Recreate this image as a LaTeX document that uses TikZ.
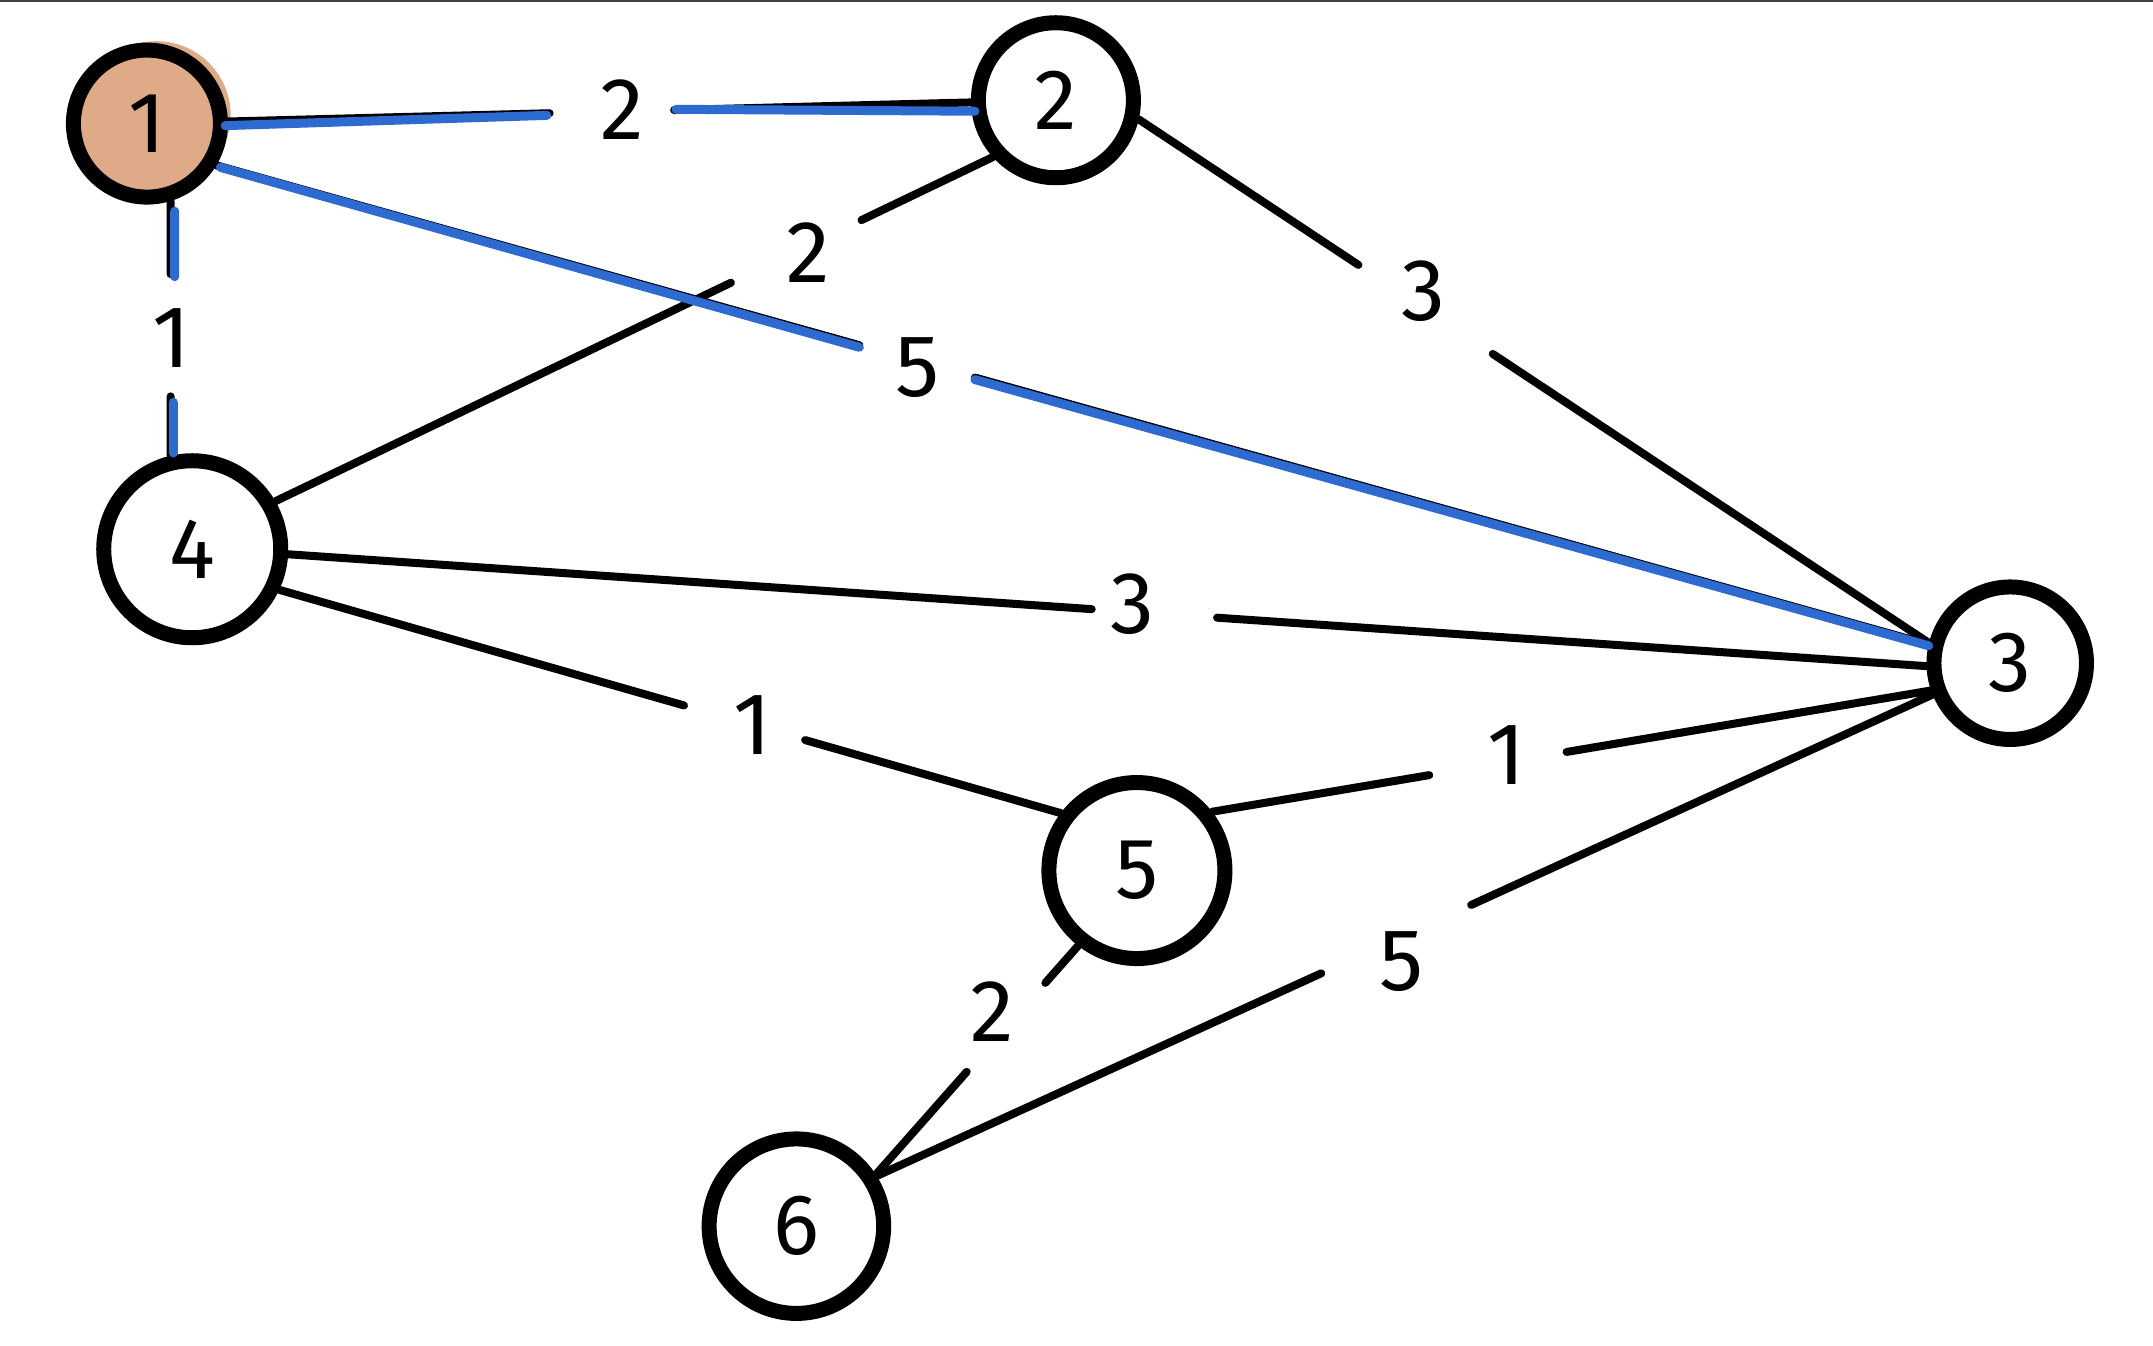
\documentclass[tikz,border=0pt]{standalone}
\usepackage{fontspec}
\setmainfont{Fira Sans}
\usetikzlibrary{calc}
\definecolor{hlblue}{HTML}{2D6BD0}
\definecolor{srcfill}{HTML}{DFAA87}
\definecolor{topline}{HTML}{404040}
\tikzset{
  vtx/.style={circle, draw=black, line width=15pt, fill=white, inner sep=0pt,
    font=\fontsize{86}{86}\selectfont},
  wlabel/.style={inner sep=0pt, font=\fontsize{88}{88}\selectfont},
  edge/.style={line width=8pt, line cap=round, black},
  hl/.style={line width=9pt, line cap=round, hlblue},
}
\begin{document}
\begin{tikzpicture}[x=1.373pt,y=-1.373pt]
\useasboundingbox (0,0) rectangle (1568,979.6);
\fill[topline] (0,0) rectangle (1568,1.5);
% source blob behind node 1
\fill[srcfill] (114,84) circle[radius=54];
% vertices
\node[vtx, fill=srcfill, minimum size=147pt] (n1) at (107,90) {1};
\node[vtx, minimum size=155pt] (n2) at (769,73) {2};
\node[vtx, minimum size=152.5pt] (n3) at (1464,483) {3};
\node[vtx, minimum size=177pt] (n4) at (140,400) {4};
\node[vtx, minimum size=176pt] (n5) at (828,634) {5};
\node[vtx, minimum size=174.5pt] (n6) at (580,893) {6};
% weight labels
\node[wlabel] (l12) at (453,80) {2};
\node[wlabel] (l14) at (125,246) {1};
\node[wlabel] (l13) at (668,268) {5};
\node[wlabel] (l24) at (589,184) {2};
\node[wlabel] (l23) at (1037,212) {3};
\node[wlabel] (l43) at (825,440) {3};
\node[wlabel] (l45) at (548,528) {1};
\node[wlabel] (l53) at (1097,550) {1};
\node[wlabel] (l36) at (1021,700) {5};
\node[wlabel] (l56) at (723,737) {2};
% edges
% 1-2
\draw[edge] (n1) -- ($(n1)!0.443!(n2)$);
\draw[edge] ($(n1)!0.58!(n2)$) -- (n2);
% 1-4
\draw[edge] (n1.-73) -- ($(n1.-73)!0.287!(n4.103)$);
\draw[edge] ($(n1.-73)!0.767!(n4.103)$) -- (n4.103);
% 1-3
\draw[edge] (n1.-31) -- ($(n1.-31)!0.3755!(n3.167)$);
\draw[edge] ($(n1.-31)!0.443!(n3.167)$) -- (n3.167);
% 2-4
\draw[edge] (n2.222) -- ($(n2.222)!0.183!(n4.30)$);
\draw[edge] ($(n2.222)!0.365!(n4.30)$) -- (n4.30);
% 2-3
\draw[edge] (n2.-13) -- ($(n2.-13)!0.278!(n3.166)$);
\draw[edge] ($(n2.-13)!0.448!(n3.166)$) -- (n3.166);
% 4-3
\draw[edge] (n4.-3) -- ($(n4.-3)!0.4905!(n3.182)$);
\draw[edge] ($(n4.-3)!0.567!(n3.182)$) -- (n3.182);
% 4-5
\draw[edge] (n4.-25) -- ($(n4.-25)!0.518!(n5.143)$);
\draw[edge] ($(n4.-25)!0.673!(n5.143)$) -- (n5.143);
% 5-3
\draw[edge] (n5.38) -- ($(n5.38)!0.302!(n3.199)$);
\draw[edge] ($(n5.38)!0.493!(n3.199)$) -- (n3.199);
% 3-6
\draw[edge] (n3.202) -- ($(n3.202)!0.437!(n6.32)$);
\draw[edge] ($(n3.202)!0.579!(n6.32)$) -- (n6.32);
% 5-6
\draw[edge] (n5.232) -- ($(n5.232)!0.162!(n6.33)$);
\draw[edge] ($(n5.232)!0.551!(n6.33)$) -- (n6.33);
% highlighted (blue) path edges
\draw[hl] ($(n1)+(57,1.5)$) -- ($(n1)!0.44!(n2)+(0,1.5)$);
\draw[hl] ($(n1)!0.582!(n2)+(0,-0.5)$) -- ($(n2)+(-59,8)$);
\draw[hl] ($(n1.-73)!0.04!(n4.103)+(3,0)$) -- ($(n1.-73)!0.297!(n4.103)+(3,0)$);
\draw[hl] ($(n1.-73)!0.79!(n4.103)+(2,0)$) -- ($(n4.103)+(2,-2)$);
\draw[hl] ($(n1.-31)+(3,1.5)$) -- ($(n1.-31)!0.3755!(n3.167)+(0,1.5)$);
\draw[hl] ($(n1.-31)!0.443!(n3.167)+(0,1.5)$) -- ($(n3.167)+(0,1)$);
\end{tikzpicture}
\end{document}
